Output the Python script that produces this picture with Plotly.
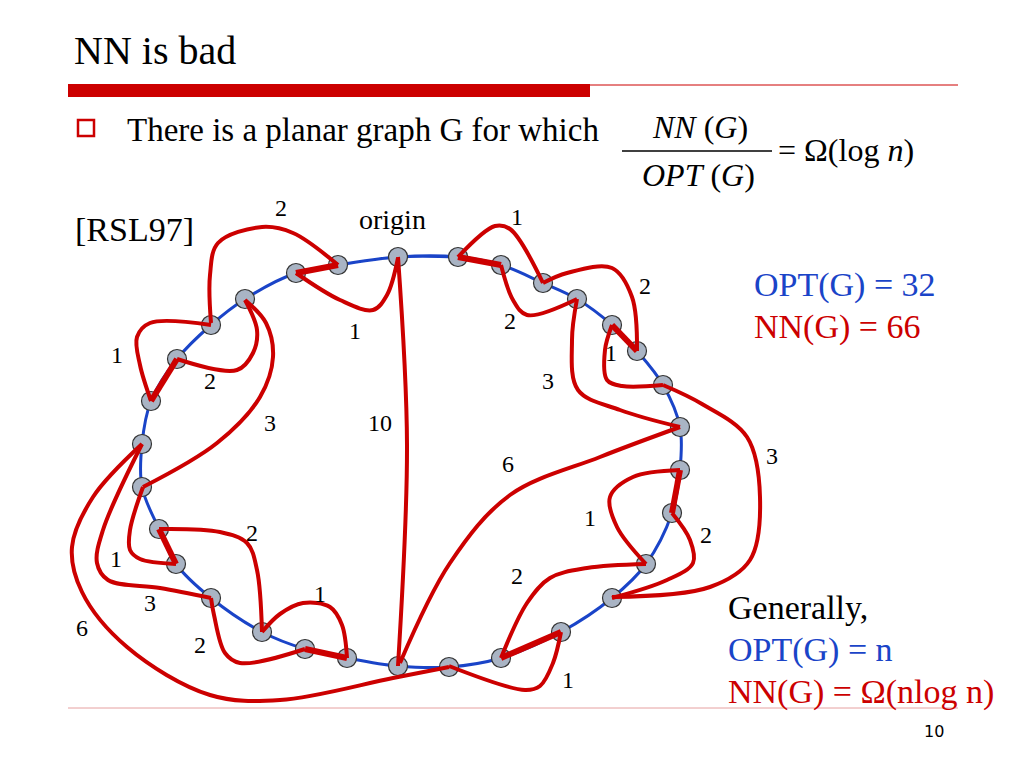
import plotly.graph_objects as go

# nodes on the optimal tour (blue), clockwise from the origin
node_x = [398, 458, 501, 543, 577, 612, 637, 663, 680, 680, 672, 646, 612, 561, 501,
          449, 398, 347, 305, 262, 211, 176, 159, 142, 142, 151, 177, 211, 245, 296, 338]
node_y = [257, 257, 265, 283, 299, 325, 351, 385, 427, 470, 513, 564, 598, 632, 658,
          667, 666, 658, 649, 632, 598, 564, 529, 487, 444, 401, 359, 325, 299, 273, 265]

# short direct nearest-neighbour steps (straight thick red)
nn_steps = [
    [(296, 273), (338, 265)],
    [(151, 401), (177, 359)],
    [(176, 564), (159, 529)],
    [(347, 658), (305, 649)],
    [(458, 257), (501, 265)],
    [(637, 351), (612, 325)],
    [(680, 470), (672, 513)],
    [(501, 658), (561, 632)],
]

# curved nearest-neighbour detours (red)
nn_curves = [
    [(296, 273), (340, 300), (373, 310), (387, 295), (398, 258)],
    [(338, 265), (293, 233), (262, 227), (218, 243), (210, 275), (211, 323)],
    [(211, 325), (150, 323), (137, 337), (140, 365), (151, 401)],
    [(177, 359), (237, 370), (253, 353), (257, 330), (245, 300)],
    [(245, 300), (266, 323), (273, 357), (260, 397), (217, 443), (143, 487)],
    [(143, 487), (130, 530), (130, 550), (140, 559), (176, 564)],
    [(159, 529), (220, 532), (247, 543), (257, 570), (262, 632)],
    [(262, 632), (280, 614), (303, 603), (330, 607), (342, 625), (347, 658)],
    [(305, 649), (240, 663), (225, 653), (214, 615), (211, 598)],
    [(211, 598), (160, 588), (108, 580), (97, 563), (103, 530), (142, 444)],
    [(142, 444), (93, 497), (72, 547), (82, 592), (127, 647), (210, 695),
     (280, 700), (393, 678), (449, 667)],
    [(398, 257), (407, 445), (398, 666)],
    [(458, 257), (495, 226), (510, 229), (543, 283)],
    [(501, 265), (513, 300), (527, 315), (577, 299)],
    [(543, 283), (567, 273), (612, 268), (632, 297), (637, 351)],
    [(612, 325), (605, 350), (607, 380), (622, 386), (663, 385)],
    [(577, 299), (572, 340), (578, 390), (620, 410), (680, 427)],
    [(680, 427), (600, 457), (510, 495), (450, 563), (400, 663)],
    [(663, 385), (702, 404), (747, 437), (760, 497), (750, 560), (710, 587), (612, 597)],
    [(680, 470), (633, 477), (610, 497), (617, 527), (646, 564)],
    [(672, 513), (690, 540), (693, 563), (667, 580), (612, 598)],
    [(646, 564), (587, 568), (550, 578), (527, 603), (501, 658)],
    [(561, 632), (553, 663), (540, 686), (525, 690), (449, 666)],
]

# edge weight labels
weight_text = ["2", "1", "1", "2", "3", "10", "1", "2", "2", "1", "3", "6", "2",
               "1", "1", "2", "3", "3", "6", "1", "2", "2", "1"]
weight_x = [281, 355, 117, 210, 270, 380, 517, 510, 645, 611, 548, 508, 252,
            116, 320, 200, 150, 772, 82, 590, 706, 517, 568]
weight_y = [210, 333, 357, 383, 425, 425, 219, 323, 288, 355, 383, 466, 535,
            561, 596, 647, 605, 458, 630, 520, 537, 578, 682]

RED = "#cc0000"
BLUE = "#1a44c8"
SERIF = "Liberation Serif"
NB = "\u00a0"

fig = go.Figure()

# optimal tour: closed smooth curve through all nodes
loop_x = node_x[-1:] + node_x + node_x[:2]
loop_y = node_y[-1:] + node_y + node_y[:2]
fig.add_trace(go.Scatter(x=loop_x, y=loop_y, mode="lines",
                         line=dict(color=BLUE, width=3, shape="spline", smoothing=1.0),
                         hoverinfo="skip"))

fig.add_trace(go.Scatter(x=node_x, y=node_y, mode="markers",
                         marker=dict(size=19, color="#a9b4c4",
                                     line=dict(color="#333333", width=1.2)),
                         hoverinfo="skip"))

for path in nn_curves:
    fig.add_trace(go.Scatter(x=[p[0] for p in path], y=[p[1] for p in path], mode="lines",
                             line=dict(color=RED, width=4, shape="spline", smoothing=1.0),
                             hoverinfo="skip"))
for path in nn_steps:
    fig.add_trace(go.Scatter(x=[p[0] for p in path], y=[p[1] for p in path], mode="lines",
                             line=dict(color=RED, width=6), hoverinfo="skip"))

fig.add_trace(go.Scatter(x=weight_x, y=weight_y, mode="text", text=weight_text,
                         textfont=dict(family=SERIF, size=24, color="black"),
                         hoverinfo="skip"))

# slide decorations
shapes = [
    dict(type="rect", x0=68, x1=590, y0=84, y1=97, fillcolor=RED, line_width=0),
    dict(type="line", x0=590, x1=958, y0=85, y1=85, line=dict(color=RED, width=1)),
    dict(type="rect", x0=78, x1=94, y0=120, y1=136, line=dict(color=RED, width=2.5)),
    dict(type="line", x0=622, x1=772, y0=151, y1=151, line=dict(color="black", width=1.5)),
    dict(type="line", x0=68, x1=958, y0=708, y1=708, line=dict(color="#e6a0a0", width=1)),
]

def note(x, y, text, size, color="black", xanchor="left", family=SERIF):
    return dict(x=x, y=y, text=text, showarrow=False, xanchor=xanchor, yanchor="middle",
                font=dict(family=family, size=size, color=color))

annotations = [
    note(72, 50, "NN is bad", 40),
    note(125, 130, "There is a planar graph G for which", 33),
    note(700, 127, "<i>NN</i>" + NB + "(<i>G</i>)", 32, xanchor="center"),
    note(698, 175, "<i>OPT</i>" + NB + "(<i>G</i>)", 32, xanchor="center"),
    note(776, 150, "= Ω(log" + NB + "<i>n</i>)", 32),
    note(73, 229, "[RSL97]", 34),
    note(392, 219, "origin", 28, xanchor="center"),
    note(752, 285, "OPT(G) = 32", 34, BLUE),
    note(752, 327, "NN(G) = 66", 34, RED),
    note(726, 607, "Generally,", 34),
    note(726, 650, "OPT(G) = n", 34, BLUE),
    note(726, 692, "NN(G) = Ω(nlog n)", 34, RED),
    note(934, 731, "10", 16, family="DejaVu Sans", xanchor="center"),
]

# page body adds an 8px margin, so the ranges start at 8 to keep the pixel mapping
fig.update_layout(
    width=1024, height=768, margin=dict(l=0, r=0, t=0, b=0),
    paper_bgcolor="white", plot_bgcolor="white", showlegend=False,
    xaxis=dict(range=[8, 1032], visible=False, fixedrange=True),
    yaxis=dict(range=[776, 8], visible=False, fixedrange=True),
    shapes=shapes, annotations=annotations,
)

fig.write_html("out.html")
